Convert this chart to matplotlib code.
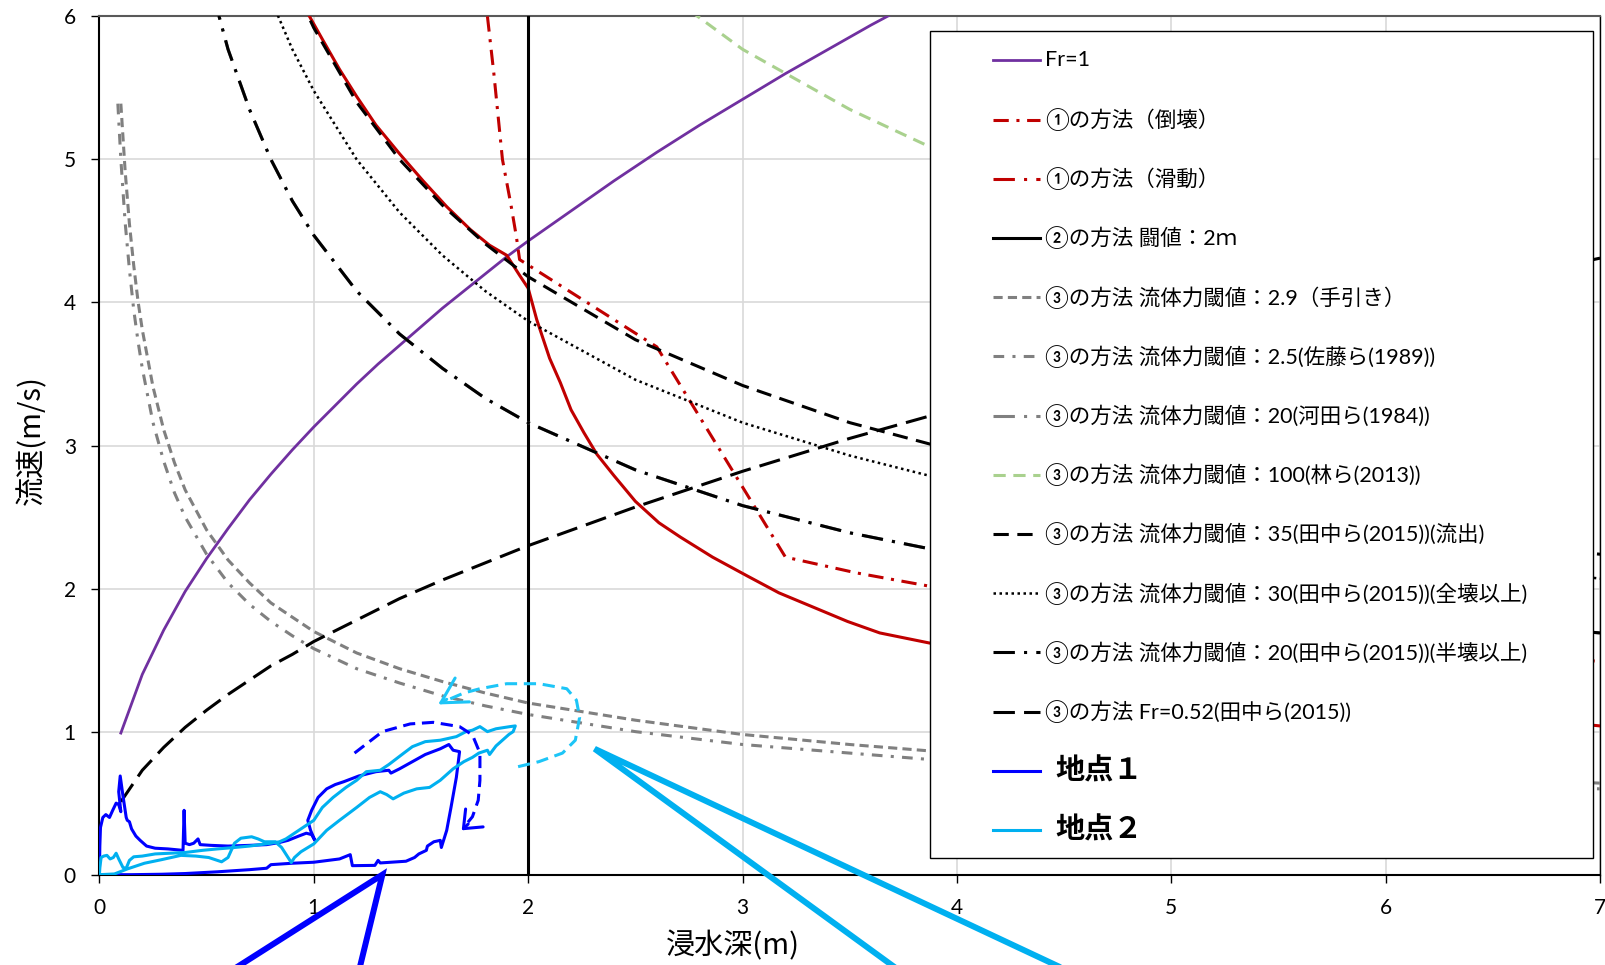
#!/usr/bin/env python3
"""Flow velocity vs. inundation depth: house-damage thresholds and two gauging points."""

import matplotlib

matplotlib.use("Agg")

import matplotlib.pyplot as plt
from matplotlib.lines import Line2D
from matplotlib.patches import Rectangle

plt.rcParams["font.family"] = ["Lato", "Noto Sans CJK JP", "DejaVu Sans"]
CJK = ["Noto Sans CJK JP", "DejaVu Sans"]

# Froude-number lines (depth m, velocity m/s)
FR1_DEPTH = [0.1, 0.2, 0.3, 0.4, 0.5, 0.6, 0.7, 0.8, 0.9, 1.0, 1.1, 1.2, 1.3, 1.4, 1.5,
             1.6, 1.7, 1.8, 1.9, 2.0, 2.2, 2.4, 2.6, 2.8, 3.0, 3.2, 3.4, 3.6, 3.8]
FR1_VEL = [0.99, 1.40, 1.71, 1.98, 2.21, 2.42, 2.62, 2.80, 2.97, 3.13, 3.28, 3.43, 3.57, 3.70, 3.83,
           3.96, 4.08, 4.20, 4.32, 4.43, 4.64, 4.85, 5.05, 5.24, 5.42, 5.60, 5.77, 5.94, 6.10]

FR052_DEPTH = [0.1, 0.2, 0.3, 0.4, 0.5, 0.6, 0.7, 0.8, 0.9, 1.0, 1.2, 1.4, 1.6, 1.8, 2.0,
               2.5, 3.0, 3.5, 4.0, 4.5, 5.0, 5.5, 6.0, 6.5, 7.0]
FR052_VEL = [0.51, 0.73, 0.89, 1.03, 1.15, 1.26, 1.36, 1.46, 1.54, 1.63, 1.78, 1.93, 2.06, 2.18, 2.30,
             2.57, 2.82, 3.05, 3.26, 3.45, 3.64, 3.82, 3.99, 4.15, 4.31]

# method 1: overturning / sliding limits
TOPPLE_DEPTH = [1.81, 1.84, 1.88, 1.92, 1.945, 1.96, 2.60, 3.20, 3.53, 3.86, 4.5, 5.5, 6.5, 7.0]
TOPPLE_VEL = [6.00, 5.60, 5.00, 4.68, 4.46, 4.30, 3.69, 2.22, 2.11, 2.02, 1.85, 1.70, 1.56, 1.49]

SLIDE_DEPTH = [0.98, 1.04, 1.12, 1.20, 1.29, 1.40, 1.51, 1.62, 1.73, 1.82, 1.90, 1.93, 1.96, 2.00,
               2.04, 2.10, 2.15, 2.20, 2.26, 2.32, 2.40, 2.50, 2.61, 2.71, 2.86, 3.02, 3.17, 3.33,
               3.49, 3.64, 3.87, 4.5, 5.5, 6.5, 7.0]
SLIDE_VEL = [6.00, 5.84, 5.63, 5.44, 5.24, 5.04, 4.85, 4.67, 4.51, 4.40, 4.33, 4.26, 4.19, 4.10,
             3.88, 3.61, 3.44, 3.25, 3.09, 2.94, 2.79, 2.61, 2.46, 2.36, 2.22, 2.09, 1.97, 1.87,
             1.77, 1.69, 1.62, 1.45, 1.26, 1.11, 1.04]

# method 2: depth threshold 2 m
DEPTH_LIMIT_X = [2.0, 2.0]
DEPTH_LIMIT_Y = [0.0, 6.0]

# method 3: fluid-force thresholds on a shared depth grid
DEPTH = [0.1, 0.12, 0.14, 0.16, 0.18, 0.2, 0.25, 0.3, 0.35, 0.4, 0.5, 0.6, 0.7, 0.8, 0.9, 1.0,
         1.2, 1.4, 1.6, 1.8, 2.0, 2.5, 3.0, 3.5, 4.0, 4.5, 5.0, 5.5, 6.0, 6.5, 7.0]
F2_9 = [5.39, 4.92, 4.55, 4.26, 4.01, 3.81, 3.41, 3.11, 2.88, 2.69, 2.41, 2.20, 2.04, 1.90, 1.80, 1.70,
        1.55, 1.44, 1.35, 1.27, 1.20, 1.08, 0.98, 0.91, 0.85, 0.80, 0.76, 0.73, 0.70, 0.67, 0.64]
F2_5_DEPTH = [0.086] + DEPTH
F2_5 = [5.39, 5.00, 4.56, 4.23, 3.95, 3.73, 3.54, 3.16, 2.89, 2.67, 2.50, 2.24, 2.04, 1.89, 1.77, 1.67,
        1.58, 1.44, 1.34, 1.25, 1.18, 1.12, 1.00, 0.91, 0.85, 0.79, 0.75, 0.71, 0.67, 0.65, 0.62, 0.60]
F20 = [14.14, 12.91, 11.95, 11.18, 10.54, 10.00, 8.94, 8.16, 7.56, 7.07, 6.32, 5.77, 5.35, 5.00, 4.71,
       4.47, 4.08, 3.78, 3.54, 3.33, 3.16, 2.83, 2.58, 2.39, 2.24, 2.11, 2.00, 1.91, 1.83, 1.75, 1.69]
F100 = [31.62, 28.87, 26.73, 25.00, 23.57, 22.36, 20.00, 18.26, 16.90, 15.81, 14.14, 12.91, 11.95,
        11.18, 10.54, 10.00, 9.13, 8.45, 7.91, 7.45, 7.07, 6.32, 5.77, 5.35, 5.00, 4.71, 4.47, 4.26,
        4.08, 3.92, 3.78]
F35 = [18.71, 17.08, 15.81, 14.79, 13.94, 13.23, 11.83, 10.80, 10.00, 9.35, 8.37, 7.64, 7.07, 6.61,
       6.24, 5.92, 5.40, 5.00, 4.68, 4.41, 4.18, 3.74, 3.42, 3.16, 2.96, 2.79, 2.65, 2.52, 2.42, 2.32,
       2.24]
F30 = [17.32, 15.81, 14.64, 13.69, 12.91, 12.25, 10.95, 10.00, 9.26, 8.66, 7.75, 7.07, 6.55, 6.12,
       5.77, 5.48, 5.00, 4.63, 4.33, 4.08, 3.87, 3.46, 3.16, 2.93, 2.74, 2.58, 2.45, 2.34, 2.24, 2.15,
       2.07]

# observed hydrographs at the two gauging points
P1_DEPTH = [0.0, 0.002, 0.005, 0.016, 0.03, 0.047, 0.062, 0.078, 0.09, 0.10, 0.09, 0.097, 0.11,
            0.125, 0.13, 0.14, 0.15, 0.17, 0.19, 0.22, 0.26, 0.32, 0.39, 0.395, 0.40, 0.42, 0.44,
            0.46, 0.47, 0.52, 0.60, 0.70, 0.78, 0.84, 0.88, 0.93, 0.965, 0.99, 1.005, 0.985, 0.972,
            0.99, 1.02, 1.06, 1.10, 1.14, 1.21, 1.29, 1.35, 1.36, 1.40, 1.46, 1.52, 1.59, 1.63,
            1.65, 1.68, 1.665, 1.64, 1.62, 1.595, 1.59, 1.56, 1.53, 1.525, 1.49, 1.47, 1.43, 1.31,
            1.30, 1.285, 1.18, 1.17, 1.12, 1.0, 0.90, 0.80, 0.78, 0.70, 0.55, 0.40, 0.29, 0.15, 0.0]
P1_VEL = [0.0, 0.20, 0.33, 0.40, 0.42, 0.40, 0.45, 0.50, 0.49, 0.44, 0.58, 0.69, 0.55,
          0.40, 0.38, 0.37, 0.32, 0.27, 0.24, 0.20, 0.185, 0.18, 0.17, 0.45, 0.22, 0.21, 0.22,
          0.25, 0.21, 0.205, 0.20, 0.205, 0.21, 0.225, 0.24, 0.27, 0.29, 0.28, 0.24, 0.31, 0.38,
          0.45, 0.54, 0.60, 0.63, 0.65, 0.69, 0.72, 0.73, 0.71, 0.74, 0.79, 0.84, 0.88, 0.91,
          0.87, 0.86, 0.68, 0.47, 0.31, 0.19, 0.24, 0.23, 0.20, 0.17, 0.145, 0.12, 0.094, 0.082,
          0.10, 0.065, 0.063, 0.14, 0.11, 0.087, 0.08, 0.07, 0.045, 0.035, 0.02, 0.008, 0.003, 0.0, 0.0]

P2_DEPTH = [0.0, 0.07, 0.13, 0.21, 0.29, 0.38, 0.45, 0.51, 0.57, 0.60, 0.63, 0.66, 0.71, 0.74,
            0.77, 0.82, 0.85, 0.895, 0.91, 0.94, 1.0, 1.06, 1.12, 1.20, 1.26, 1.31, 1.34, 1.37,
            1.42, 1.48, 1.54, 1.59, 1.65, 1.70, 1.74, 1.77, 1.81, 1.82, 1.85, 1.88, 1.91, 1.93,
            1.94, 1.915, 1.85, 1.81, 1.775, 1.74, 1.71, 1.665, 1.59, 1.52, 1.46, 1.42, 1.35, 1.31,
            1.245, 1.20, 1.15, 1.09, 1.04, 1.0, 0.93, 0.87, 0.84, 0.80, 0.75, 0.70, 0.63, 0.55,
            0.48, 0.40, 0.33, 0.26, 0.20, 0.16, 0.14, 0.125, 0.11, 0.09, 0.078, 0.065, 0.05, 0.035,
            0.02, 0.008, 0.002, 0.0]
P2_VEL = [0.0, 0.005, 0.04, 0.08, 0.105, 0.135, 0.13, 0.12, 0.09, 0.12, 0.22, 0.255, 0.265, 0.25,
          0.23, 0.23, 0.19, 0.085, 0.12, 0.16, 0.215, 0.31, 0.38, 0.47, 0.54, 0.58, 0.56, 0.53,
          0.57, 0.60, 0.61, 0.66, 0.74, 0.79, 0.82, 0.85, 0.87, 0.84, 0.90, 0.94, 0.98, 1.0,
          1.04, 1.035, 1.02, 1.0, 1.035, 1.01, 1.0, 0.965, 0.94, 0.93, 0.895, 0.85, 0.77, 0.73,
          0.72, 0.66, 0.61, 0.54, 0.47, 0.38, 0.31, 0.25, 0.23, 0.22, 0.21, 0.20, 0.19, 0.18,
          0.17, 0.155, 0.15, 0.145, 0.13, 0.125, 0.10, 0.045, 0.05, 0.11, 0.15, 0.12, 0.11, 0.135,
          0.13, 0.12, 0.05, 0.0]

LABELS = [
    "Fr=1",
    "①の方法（倒壊）",
    "①の方法（滑動）",
    "②の方法 闘値：2ｍ",
    "③の方法 流体力閾値：2.9（手引き）",
    "③の方法 流体力閾値：2.5(佐藤ら(1989))",
    "③の方法 流体力閾値：20(河田ら(1984))",
    "③の方法 流体力閾値：100(林ら(2013))",
    "③の方法 流体力閾値：35(田中ら(2015))(流出)",
    "③の方法 流体力閾値：30(田中ら(2015))(全壊以上)",
    "③の方法 流体力閾値：20(田中ら(2015))(半壊以上)",
    "③の方法 Fr=0.52(田中ら(2015))",
    "地点１",
    "地点２",
]

RED = "#C00000"
GRAY = "#808080"
BLUE = "#0000FF"
CYAN = "#00B0F0"
LONG_DASH_DOT = (0, (7, 3, 1, 3))


def series_list():
    """(x, y, line style, legend style) in legend order; later ones draw on top."""
    solid = "-"
    return [
        (FR1_DEPTH, FR1_VEL, dict(color="#7030A0", lw=2.0, ls=solid), None),
        (TOPPLE_DEPTH, TOPPLE_VEL, dict(color=RED, lw=2.2, ls=(0, (5, 2.5, 1, 2.5))), None),
        (SLIDE_DEPTH, SLIDE_VEL, dict(color=RED, lw=2.2, ls=solid), dict(ls=LONG_DASH_DOT)),
        (DEPTH_LIMIT_X, DEPTH_LIMIT_Y, dict(color="black", lw=2.2, ls=solid), None),
        (DEPTH, F2_9, dict(color=GRAY, lw=2.2, ls=(0, (3, 1.7))), None),
        (F2_5_DEPTH, F2_5, dict(color=GRAY, lw=2.2, ls=(0, (3.5, 2.7, 1, 2.7))), None),
        (DEPTH, F20, dict(color=GRAY, lw=2.2, ls=LONG_DASH_DOT), None),
        (DEPTH, F100, dict(color="#A9D18E", lw=2.2, ls=(0, (4, 2.5))), None),
        (DEPTH, F35, dict(color="black", lw=2.2, ls=(0, (5, 2.8))), None),
        (DEPTH, F30, dict(color="black", lw=1.8, ls=(0, (1, 1.4))), None),
        (DEPTH, F20, dict(color="black", lw=2.2, ls=LONG_DASH_DOT), None),
        (FR052_DEPTH, FR052_VEL, dict(color="black", lw=2.2, ls=(0, (7, 3))), None),
        (P1_DEPTH, P1_VEL, dict(color=BLUE, lw=2.2, ls=solid), None),
        (P2_DEPTH, P2_VEL, dict(color=CYAN, lw=2.2, ls=solid), None),
    ]


def draw_legend(ax, styles):
    x0, x1, y0, y1 = 0.5535, 0.9953, 0.0195, 0.983
    ax.add_patch(Rectangle((x0, y0), x1 - x0, y1 - y0, transform=ax.transAxes,
                           facecolor="white", edgecolor="black", lw=1.0, zorder=20))
    top, step = 0.9487, 0.06897
    for i, (label, style) in enumerate(zip(LABELS, styles)):
        y = top - i * step
        ax.add_line(Line2D([0.5958, 0.6266], [y, y], transform=ax.transAxes, zorder=21, **style))
        if label.startswith("地点"):
            ax.text(0.6368, y, label, transform=ax.transAxes, va="center", ha="left",
                    fontsize=21, fontweight="bold", family=CJK, zorder=21)
        else:
            ax.text(0.630, y, label, transform=ax.transAxes, va="center", ha="left",
                    fontsize=15.5, zorder=21)


def draw_turn_arrow(ax, xs, ys, tip, tail, color, head):
    ax.plot(xs, ys, color=color, lw=2.2, ls=(0, (4, 2.2)), zorder=11)
    ax.annotate("", xy=tip, xytext=tail, zorder=11,
                arrowprops=dict(arrowstyle=head, color=color, lw=2.2,
                                shrinkA=0, shrinkB=0, mutation_scale=20))


def draw_callout(ax, tip, ends, color):
    xs = [ends[0][0], tip[0], ends[1][0]]
    ys = [ends[0][1], tip[1], ends[1][1]]
    ax.plot(xs, ys, color=color, lw=4.3, clip_on=False, zorder=12, solid_joinstyle="miter")


def main():
    fig = plt.figure(figsize=(16.06, 9.65), dpi=100)
    ax = fig.add_axes([0.0619, 0.0936, 0.9344, 0.8894])

    legend_styles = []
    for z, (x, y, style, legend_override) in enumerate(series_list()):
        ax.plot(x, y, zorder=3 + z * 0.1, **style)
        handle = dict(style)
        if legend_override:
            handle.update(legend_override)
        legend_styles.append(handle)

    # hysteresis direction at the two points
    draw_turn_arrow(ax,
                    [1.19, 1.32, 1.45, 1.557, 1.68, 1.74, 1.775, 1.775, 1.767, 1.74, 1.71],
                    [0.85, 1.0, 1.054, 1.065, 1.035, 0.977, 0.85, 0.66, 0.52, 0.405, 0.35],
                    tip=(1.69, 0.31), tail=(1.72, 0.354), color=BLUE,
                    head="->,head_length=0.55,head_width=0.45")
    draw_turn_arrow(ax,
                    [1.953, 2.05, 2.16, 2.22, 2.24, 2.225, 2.18, 2.05, 1.90, 1.775, 1.70, 1.63],
                    [0.755, 0.79, 0.85, 0.94, 1.10, 1.22, 1.30, 1.335, 1.335, 1.30, 1.27, 1.225],
                    tip=(1.58, 1.19), tail=(1.62, 1.226), color="#1DC5F7",
                    head="->,head_length=0.9,head_width=0.5")

    # speech-bubble pointers running off the bottom of the figure
    draw_callout(ax, (1.32, 0.0), [(0.48, -0.80), (1.19, -0.80)], BLUE)
    draw_callout(ax, (2.31, 0.88), [(3.85, -0.80), (4.70, -0.80)], CYAN)

    draw_legend(ax, legend_styles)

    ax.set_xlim(0, 7)
    ax.set_ylim(0, 6)
    ax.set_xticks(range(0, 8))
    ax.set_yticks(range(0, 7))
    ax.grid(True, color="#D9D9D9", lw=1.2)
    ax.set_axisbelow(True)
    ax.tick_params(direction="out", length=6, width=1, pad=11, labelsize=15, colors="black")

    for side in ("left", "bottom"):
        ax.spines[side].set_linewidth(1.5)
        ax.spines[side].set_color("black")
    ax.spines["right"].set_linewidth(1.0)
    ax.spines["right"].set_color("black")
    ax.spines["top"].set_linewidth(1.5)
    ax.spines["top"].set_color("#595959")

    ax.set_xlabel("浸水深(m)", fontsize=21, family=CJK)
    ax.xaxis.set_label_coords(0.422, -0.066)
    ax.set_ylabel("流速(m/s)", fontsize=21, family=CJK)
    ax.yaxis.set_label_coords(-0.035, 0.506)

    fig.savefig("out.png", dpi=100)
    plt.close(fig)


if __name__ == "__main__":
    main()
